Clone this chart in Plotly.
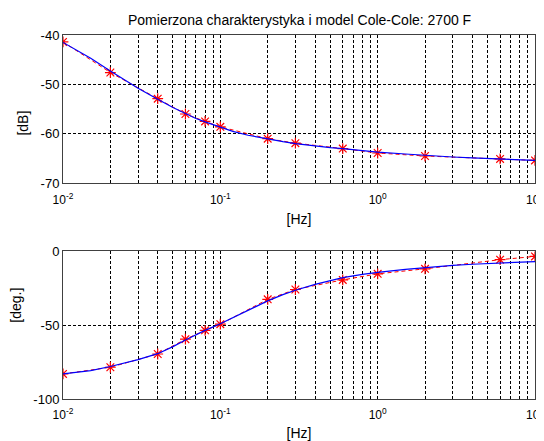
import plotly.graph_objects as go

# Measured points
freq_meas = [0.01, 0.02, 0.04, 0.06, 0.08, 0.1, 0.2, 0.3, 0.6, 1, 2, 6, 10]
mag_meas = [-41.4, -47.6, -52.9, -56.0, -57.5, -58.6, -61.0, -61.9, -63.0, -63.9, -64.5, -65.1, -65.4]
phase_meas = [-83.0, -78.5, -69.5, -59.5, -53.5, -49.3, -32.5, -25.8, -19.3, -15.2, -11.8, -5.6, -3.4]

# Cole-Cole model
freq_model = [0.01, 0.0125, 0.015, 0.02, 0.025, 0.03, 0.04, 0.05, 0.06, 0.07, 0.08, 0.1,
              0.12, 0.15, 0.2, 0.25, 0.3, 0.4, 0.5, 0.6, 0.8, 1, 1.5, 2, 3, 4, 5, 6, 8, 10]
mag_model = [-41.5, -43.3, -44.7, -47.3, -49.3, -50.8, -53.0, -54.7, -55.9, -56.9, -57.6, -58.7,
             -59.5, -60.3, -61.1, -61.6, -62.0, -62.5, -62.8, -63.0, -63.4, -63.7, -64.1, -64.4,
             -64.7, -64.9, -65.0, -65.1, -65.3, -65.4]
phase_model = [-83.0, -82.0, -80.8, -78.0, -75.5, -73.3, -69.3, -64.5, -60.0, -56.5, -53.5, -49.0,
               -45.0, -40.0, -33.5, -29.3, -26.3, -22.3, -19.6, -17.8, -15.6, -14.2, -12.2, -10.9,
               -9.5, -8.7, -8.2, -7.8, -7.3, -6.9]

major_x = [0.01, 0.1, 1, 10]
major_text = ["10<sup>-2</sup>", "10<sup>-1</sup>", "10<sup>0</sup>", "10<sup>1</sup>"]
minor_x = [m * 10 ** e for e in (-2, -1, 0) for m in range(2, 10)]
mag_ticks = [-70, -60, -50, -40]
mag_ticktext = ["-70", "-60", "-50", "-40"]
phase_ticks = [-100, -50, 0]
phase_ticktext = ["-100", "-50", "0"]

title = "Pomierzona charakterystyka i model Cole-Cole: 2700 F"

fig = go.Figure()
marker = dict(symbol="asterisk", size=9, color="red", line=dict(color="red", width=1.2))

fig.add_trace(go.Scatter(x=freq_meas, y=mag_meas, mode="lines+markers", marker=marker,
                         line=dict(color="red", width=1, dash="4px,3px"), xaxis="x", yaxis="y"))
fig.add_trace(go.Scatter(x=freq_model, y=mag_model, mode="lines",
                         line=dict(color="blue", width=1.2), xaxis="x", yaxis="y"))
fig.add_trace(go.Scatter(x=freq_meas, y=phase_meas, mode="lines+markers", marker=marker,
                         line=dict(color="red", width=1, dash="4px,3px"), xaxis="x2", yaxis="y2"))
fig.add_trace(go.Scatter(x=freq_model, y=phase_model, mode="lines",
                         line=dict(color="blue", width=1.2), xaxis="x2", yaxis="y2"))

font = dict(family="Liberation Sans, Arial, sans-serif", size=12, color="black")
yfont = dict(family="Liberation Sans, Arial, sans-serif", size=13, color="black")
big = dict(family="Liberation Sans, Arial, sans-serif", size=14, color="black")
gridstyle = dict(showgrid=True, gridcolor="black", griddash="3px,2px", gridwidth=1)
xcommon = dict(type="log", range=[-2, 1], tickmode="array", tickvals=major_x, ticktext=major_text,
               **gridstyle, minor=dict(tickmode="array", tickvals=minor_x, ticks="", **gridstyle),
               showline=True, linecolor="#404040", linewidth=1, mirror=True, ticks="",
               zeroline=False, tickfont=font, automargin=False, ticklabelstandoff=5,
               ticklabeloverflow="allow",
               title=dict(text="[Hz]", font=big, standoff=8))
ycommon = dict(**gridstyle, showline=True, linecolor="#404040", linewidth=1, mirror=True,
               ticks="", zeroline=False, tickfont=yfont, automargin=False, tickmode="array")

# The page body has an 8px margin, so the figure is sized/offset to compensate.
fig.update_layout(
    width=536, height=433, showlegend=False,
    paper_bgcolor="white", plot_bgcolor="white", font=font,
    margin=dict(l=54.5, r=9, t=27, b=42),
    xaxis=dict(xcommon, domain=[0, 1], anchor="y"),
    yaxis=dict(ycommon, domain=[0.593, 1], range=[-70, -40], tickvals=mag_ticks,
               ticktext=mag_ticktext, anchor="x"),
    xaxis2=dict(xcommon, domain=[0, 1], anchor="y2"),
    yaxis2=dict(ycommon, domain=[0, 0.4055], range=[-100, 0], tickvals=phase_ticks,
                ticktext=phase_ticktext, anchor="x2"),
    annotations=[
        dict(text=title, x=0.5, y=1, xref="paper", yref="paper", xanchor="center",
             yanchor="bottom", yshift=5, showarrow=False, font=big),
        dict(text="[dB]", x=0, xref="paper", xanchor="center", xshift=-40, y=0.7965,
             yref="paper", showarrow=False, textangle=-90, font=big),
        dict(text="[deg.]", x=0, xref="paper", xanchor="center", xshift=-47, y=0.2028,
             yref="paper", showarrow=False, textangle=-90, font=big),
    ],
)

fig.write_html("out.html", config={"displayModeBar": False})
